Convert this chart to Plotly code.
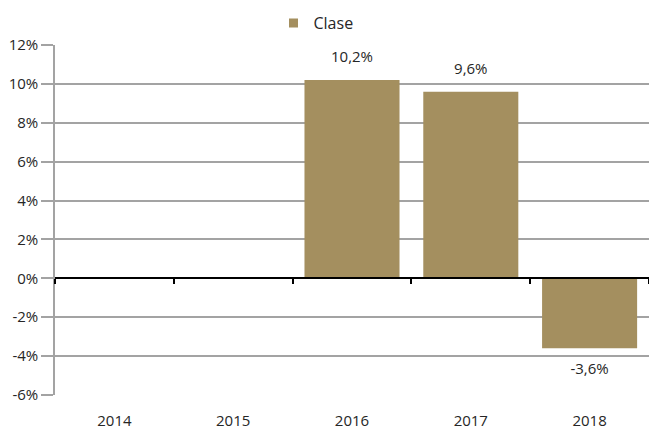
import plotly.graph_objects as go

years = ["2014", "2015", "2016", "2017", "2018"]
values = [None, None, 10.2, 9.6, -3.6]
series_name = "Clase"
y_ticks = [-6, -4, -2, 0, 2, 4, 6, 8, 10, 12]

BAR = "#A48F5F"
GRID = "#A3A3A3"
TXT = "#262626"
FONT = "Open Sans"

labels = [None if v is None else f"{v:.1f}".replace(".", ",") + "%" for v in values]

fig = go.Figure()
fig.add_trace(go.Bar(x=years, y=values, name=series_name, marker_color=BAR,
                     marker_line_width=0, hoverinfo="skip", showlegend=False))
# data labels: text placed off an invisible marker at each bar end
fig.add_trace(go.Scatter(x=years, y=values, mode="markers+text", text=labels,
                         textposition=["top center" if (v or 0) >= 0 else "bottom center" for v in values],
                         marker=dict(size=21, opacity=0), textfont=dict(size=15, color=TXT),
                         showlegend=False, hoverinfo="skip", cliponaxis=False))
# legend entry with a small square swatch
fig.add_trace(go.Scatter(x=[None], y=[None], mode="markers", name=series_name,
                         marker=dict(symbol="square", size=9, color=BAR)))
# invisible helper trace for the tick axis drawn along the zero line
fig.add_trace(go.Scatter(x=years, y=[0] * len(years), mode="markers",
                         marker=dict(opacity=0), showlegend=False,
                         hoverinfo="skip", xaxis="x2"))

ymin, ymax = min(y_ticks), max(y_ticks)
fig.update_layout(
    width=649, height=431,
    margin=dict(l=55, r=0, t=45, b=36, autoexpand=False),
    paper_bgcolor="white", plot_bgcolor="white",
    font=dict(family=FONT, size=14, color=TXT),
    bargap=0.2,
    showlegend=True,
    legend=dict(orientation="h", x=(316 - 55) / (649 - 55), xanchor="center",
                y=1 + 22 / 350, yanchor="middle", itemwidth=30,
                font=dict(size=16)),
    xaxis=dict(type="category", categoryorder="array", categoryarray=years,
               range=[-0.5, len(years) - 0.5], showgrid=False, showline=False,
               ticks="outside", ticklen=12, tickcolor="rgba(0,0,0,0)",
               tickfont=dict(size=15), zeroline=False),
    xaxis2=dict(type="category", categoryorder="array", categoryarray=years,
                range=[-0.5, len(years) - 0.5], overlaying="x", anchor="free",
                position=(0 - ymin) / (ymax - ymin), side="bottom",
                tickson="boundaries", ticks="outside", ticklen=5, tickwidth=2,
                tickcolor="black", showticklabels=False, showgrid=False,
                showline=True, linecolor="black", linewidth=2,
                layer="above traces", zeroline=False),
    yaxis=dict(range=[ymin, ymax], tickvals=y_ticks,
               ticktext=[f"{t}%" for t in y_ticks],
               showgrid=True, gridcolor=GRID, gridwidth=1.5,
               showline=True, linecolor=GRID, linewidth=1.5,
               ticks="outside", ticklen=12, tickcolor=GRID, tickwidth=1.5,
               tickfont=dict(size=15), zeroline=False),
)

fig.write_html("out.html", config={"displayModeBar": False},
               post_script="document.body.style.margin='0';")
